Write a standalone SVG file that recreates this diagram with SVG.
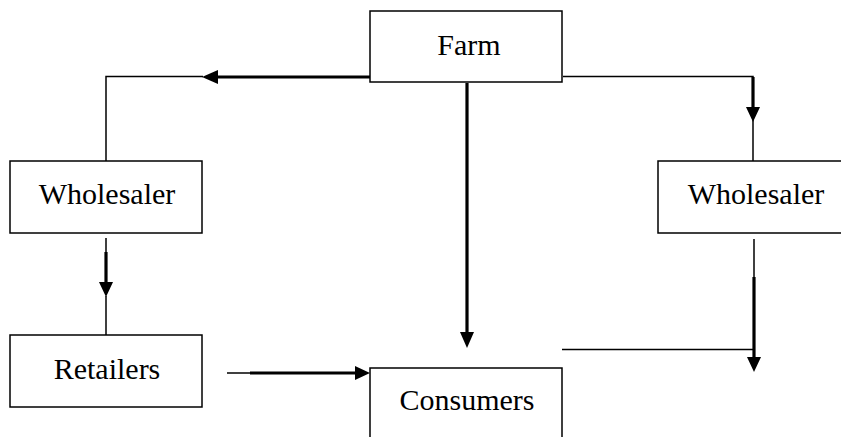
<svg xmlns="http://www.w3.org/2000/svg" width="841" height="437" viewBox="0 0 841 437">
<style>
.box{fill:#fff;stroke:#000;stroke-width:1.5}
.lbl{font-family:"Liberation Serif","Times New Roman",serif;font-size:30px;fill:#000;text-anchor:middle}
.thin{fill:none;stroke:#000;stroke-width:1.5}
.thick{fill:none;stroke:#000;stroke-width:3.2}
.head{fill:#000;stroke:none}
</style>
<rect width="841" height="437" fill="#fff"/>
<g id="connectors">
<!-- Farm to left Wholesaler -->
<line class="thick" x1="370" y1="77" x2="216" y2="77"/>
<polygon class="head" points="202,77 218,70 218,84"/>
<polyline class="thin" points="203,76.5 106,76.5 106,161"/>
<!-- Left Wholesaler to Retailers -->
<line class="thin" x1="106" y1="238" x2="106" y2="253"/>
<line class="thick" x1="106" y1="252" x2="106" y2="285"/>
<polygon class="head" points="106,297 99,282 113,282"/>
<line class="thin" x1="106" y1="296" x2="106" y2="335"/>
<!-- Retailers to Consumers -->
<line class="thin" x1="227" y1="373" x2="251" y2="373"/>
<line class="thick" x1="250" y1="373" x2="357" y2="373"/>
<polygon class="head" points="370,373 355,366 355,380"/>
<!-- Farm to Consumers -->
<line class="thick" x1="467" y1="83" x2="467" y2="334"/>
<polygon class="head" points="467,348 460,332 474,332"/>
<!-- Farm to right Wholesaler -->
<polyline class="thin" points="563,76.5 753,76.5 753,80"/>
<line class="thick" x1="753" y1="77" x2="753" y2="109"/>
<polygon class="head" points="753,122 746,107 760,107"/>
<line class="thin" x1="753" y1="120" x2="753" y2="173"/>
<!-- Right Wholesaler down -->
<line class="thin" x1="754" y1="239" x2="754" y2="278"/>
<line class="thick" x1="754" y1="277" x2="754" y2="359"/>
<polygon class="head" points="754,372 747,357 761,357"/>
<line class="thin" x1="562" y1="349.5" x2="754" y2="349.5"/>
</g>
<g id="farm">
<rect class="box" x="370" y="11" width="192" height="71"/>
<text class="lbl" x="469" y="55">Farm</text>
</g>
<g id="wholesaler-left">
<rect class="box" x="10" y="161" width="192" height="72"/>
<text class="lbl" x="107" y="204">Wholesaler</text>
</g>
<g id="wholesaler-right">
<path class="box" d="M845,161 H658 V233 H845"/>
<text class="lbl" x="756" y="204">Wholesaler</text>
</g>
<g id="retailers">
<rect class="box" x="10" y="335" width="192" height="72"/>
<text class="lbl" x="107" y="379">Retailers</text>
</g>
<g id="consumers">
<path class="box" d="M370,440 V368 H562 V440"/>
<text class="lbl" x="467" y="410">Consumers</text>
</g>
</svg>
